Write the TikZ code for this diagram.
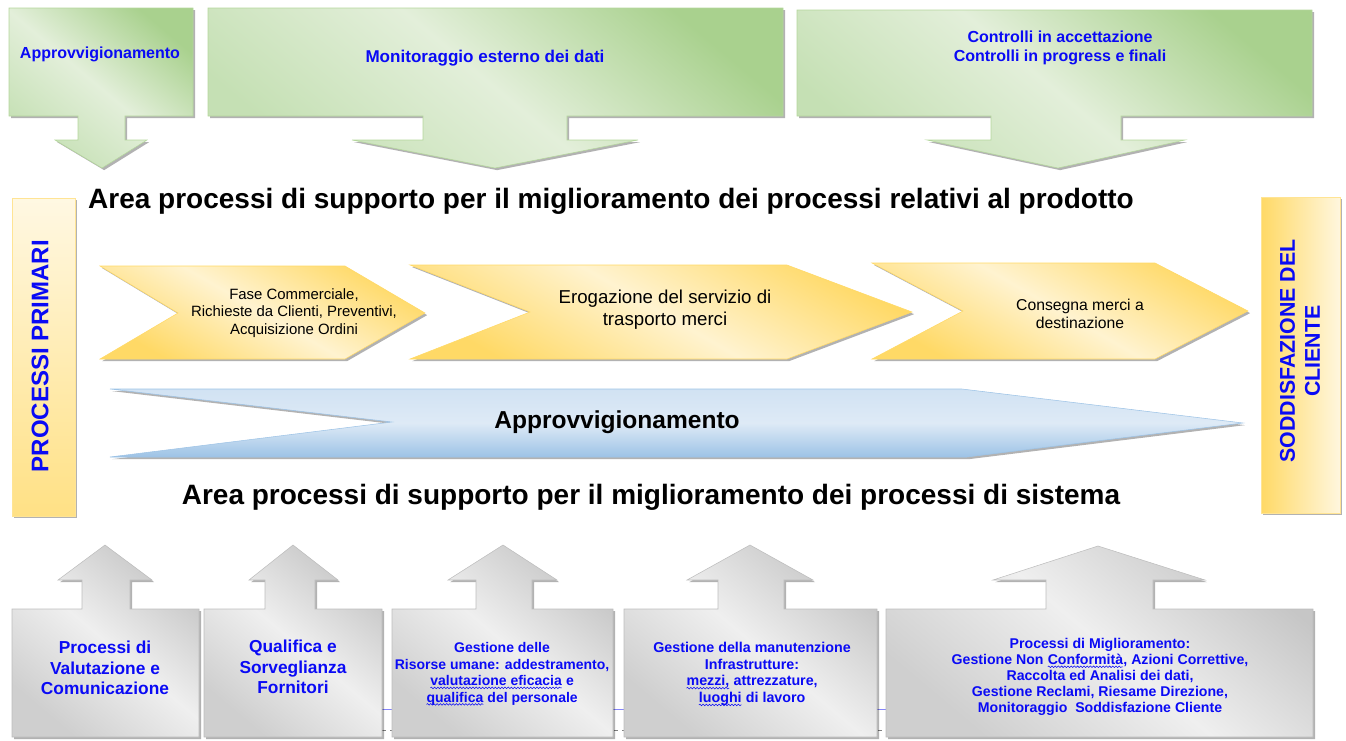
\documentclass[tikz,border=0pt]{standalone}
\usepackage{fontspec}
\setmainfont{Liberation Sans}
\usepackage{xcolor}
\usetikzlibrary{shadows, decorations.pathmorphing}

\definecolor{grnDark}{HTML}{A9D18E}
\definecolor{grnLight}{HTML}{E3EFDA}
\definecolor{grnMid}{HTML}{C5E0B4}
\definecolor{grnEdge}{HTML}{B4D69C}
\definecolor{yelDark}{HTML}{FFD966}
\definecolor{yelLight}{HTML}{FFF3D0}
\definecolor{bluDark}{HTML}{9DC3E6}
\definecolor{bluLight}{HTML}{DEEAF6}
\definecolor{gryDark}{HTML}{C6C6C6}
\definecolor{gryLight}{HTML}{EFEFEF}
\definecolor{gryEdge}{HTML}{BDBDBD}
\definecolor{txtBlue}{HTML}{0A0AF5}

\newcommand{\fsz}[1]{\fontsize{#1}{1.18\dimexpr#1pt\relax}\selectfont}
% wavy underline for flagged words
\newcommand{\wavy}[1]{\tikz[baseline=(w.base)]{\node[inner sep=0pt, outer sep=0pt] (w) {#1};
  \draw[line width=0.4pt, decorate, decoration={snake, amplitude=0.6pt, segment length=2.4pt}]
    ([yshift=-1.6pt]w.base west) -- ([yshift=-1.6pt]w.base east);}}

\begin{document}
\begin{tikzpicture}[x=0.75pt, y=-0.75pt,
  shadowed/.style={drop shadow={shadow xshift=1.6pt, shadow yshift=-1.6pt, fill=black, opacity=.3}},
  greenbox/.style={shadowed, draw=grnEdge, top color=grnDark, bottom color=grnMid, middle color=grnLight, shading angle=-40},
  yellowbox/.style={shadowed, draw=yelDark, top color=yelDark, bottom color=yelDark, middle color=yelLight, shading angle=-30},
  bluebox/.style={shadowed, draw=bluDark, top color=bluLight!80!bluDark, bottom color=bluDark, middle color=bluLight},
  graybox/.style={shadowed, draw=gryEdge, top color=gryDark, bottom color=gryDark!85!white, middle color=gryLight, shading angle=-40},
  bluetext/.style={text=txtBlue, font=\bfseries\fsz{12}, align=center},
  darktext/.style={text=black, font=\fsz{14}, align=center},
  title/.style={text=black, font=\bfseries\fsz{21}}
]
\useasboundingbox (0,0) rectangle (1346,740);

% supporting processes above
\path[greenbox] (9,8) -- (193,8) -- (193,116) -- (125,116) -- (125,140) -- (147,140)
  -- (102,168) -- (55,140) -- (78,140) -- (78,116) -- (9,116) -- cycle;
\path[greenbox] (208,8) -- (783,8) -- (783,116) -- (567,116) -- (567,140) -- (638,140)
  -- (495,168) -- (352,140) -- (423,140) -- (423,116) -- (208,116) -- cycle;
\path[greenbox] (797,10) -- (1312,10) -- (1312,116) -- (1121,116) -- (1121,140) -- (1185,140)
  -- (1058,168) -- (927,140) -- (991,140) -- (991,116) -- (797,116) -- cycle;

\node[bluetext] (sup1) at (100,54) {Approvvigionamento};
\node[bluetext, font=\bfseries\fsz{12.8}] (sup2) at (485,58) {Monitoraggio esterno dei dati};
\node[bluetext] (sup3) at (1060,48) {Controlli in accettazione\\Controlli in progress e finali};

\node[title] (areaprod) at (611,201) {Area processi di supporto per il miglioramento dei processi relativi al prodotto};

% side bars
\path[shadowed, draw=yelDark!70, top color=yelLight!60!white, bottom color=yelDark!80] (12,198) rectangle (75,516);
\path[shadowed, draw=yelDark!70, left color=yelDark, right color=yelLight!70!white] (1261,197) rectangle (1340,513);
\node[bluetext, font=\bfseries\fsz{18}, rotate=90] (primari) at (40,356) {PROCESSI PRIMARI};
\node[bluetext, font=\bfseries\fsz{16}, rotate=90] (cliente) at (1300,351) {SODDISFAZIONE DEL\\CLIENTE};

% primary process chain
\path[yellowbox] (100,266) -- (345,266) -- (425,313) -- (345,359) -- (100,359) -- (178,313) -- cycle;
\path[yellowbox] (410,265) -- (787,265) -- (912,312) -- (787,359) -- (410,359) -- (530,312) -- cycle;
\path[yellowbox] (872,263) -- (1155,263) -- (1248,311) -- (1155,359) -- (872,359) -- (963,311) -- cycle;

\node[darktext, font=\fsz{11.2}] (fase) at (294,313) {Fase Commerciale,\\Richieste da Clienti, Preventivi,\\Acquisizione Ordini};
\node[darktext] (erog) at (665,310) {Erogazione del servizio di\\trasporto merci};
\node[darktext, font=\fsz{11.8}] (consegna) at (1080,314) {Consegna merci a\\destinazione};

\path[bluebox] (110,389) -- (962,389) -- (1243,423) -- (967,457) -- (110,457) -- (392,422) -- cycle;
\node[text=black, font=\bfseries\fsz{18.4}] (approv) at (617,422) {Approvvigionamento};

\node[title] (areasis) at (651,497) {Area processi di supporto per il miglioramento dei processi di sistema};

% system processes below
\draw[txtBlue!50, line width=0.6pt] (382,709) -- (886,709);
\draw[gray, dashed, line width=0.6pt] (382,730) -- (886,730);

\path[graybox] (12,609) -- (82,609) -- (82,580) -- (58,580) -- (105,545) -- (152,580) -- (130,580)
  -- (130,609) -- (199,609) -- (199,737) -- (12,737) -- cycle;
\path[graybox] (204,609) -- (265,609) -- (265,580) -- (249,580) -- (293,545) -- (338,580) -- (315,580)
  -- (315,609) -- (382,609) -- (382,737) -- (204,737) -- cycle;
\path[graybox] (392,609) -- (476,609) -- (476,580) -- (448,580) -- (503,545) -- (557,580) -- (532,580)
  -- (532,609) -- (613,609) -- (613,737) -- (392,737) -- cycle;
\path[graybox] (624,609) -- (718,609) -- (718,580) -- (687,580) -- (750,545) -- (813,580) -- (784,580)
  -- (784,609) -- (877,609) -- (877,737) -- (624,737) -- cycle;
\path[graybox] (886,609) -- (1046,609) -- (1046,580) -- (993,580) -- (1098,546) -- (1205,580) -- (1153,580)
  -- (1153,609) -- (1313,609) -- (1313,737) -- (886,737) -- cycle;

\node[bluetext, font=\bfseries\fsz{13}] (valut) at (105,668) {Processi di\\Valutazione e\\Comunicazione};
\node[bluetext, font=\bfseries\fsz{13}] (fornit) at (293,667) {Qualifica e\\Sorveglianza\\Fornitori};
\node[bluetext, font=\bfseries\fsz{10.5}] (risorse) at (502,674) {Gestione delle\\Risorse umane: addestramento,\\\wavy{valutazione eficacia} e\\\wavy{qualifica} del personale};
\node[bluetext, font=\bfseries\fsz{10.7}] (manut) at (752,674) {Gestione della manutenzione\\Infrastrutture:\\\wavy{mezzi,} attrezzature,\\\wavy{luoghi} di lavoro};
\node[bluetext, font=\bfseries\fontsize{10.6}{12}\selectfont] (miglior) at (1100,677) {Processi di Miglioramento:\\Gestione Non \wavy{Conformità}, Azioni Correttive,\\Raccolta ed Analisi dei dati,\\Gestione Reclami, Riesame Direzione,\\Monitoraggio\ \ Soddisfazione Cliente};
\end{tikzpicture}
\end{document}
